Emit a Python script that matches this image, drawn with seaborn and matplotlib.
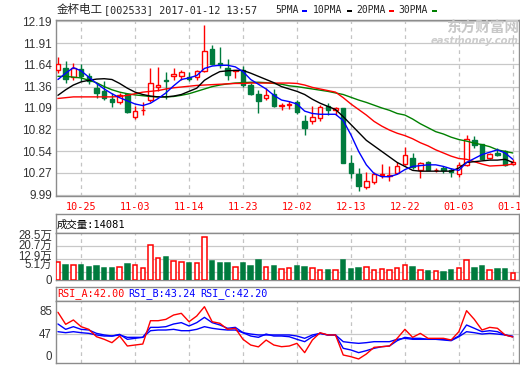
import numpy as np
import pandas as pd
import matplotlib
matplotlib.use('Agg')
import matplotlib.pyplot as plt
import seaborn as sns
from matplotlib.patches import Rectangle
from matplotlib.transforms import ScaledTranslation

# ---- data ----
dates = [
    '2016-10-20', '2016-10-21', '2016-10-24', '2016-10-25', '2016-10-26', '2016-10-27', '2016-10-28', '2016-10-31',
    '2016-11-01', '2016-11-02', '2016-11-03', '2016-11-04', '2016-11-07', '2016-11-08', '2016-11-09', '2016-11-10',
    '2016-11-11', '2016-11-14', '2016-11-15', '2016-11-16', '2016-11-17', '2016-11-18', '2016-11-21', '2016-11-22',
    '2016-11-23', '2016-11-24', '2016-11-25', '2016-11-28', '2016-11-29', '2016-11-30', '2016-12-01', '2016-12-02',
    '2016-12-05', '2016-12-06', '2016-12-07', '2016-12-08', '2016-12-09', '2016-12-12', '2016-12-13', '2016-12-14',
    '2016-12-15', '2016-12-16', '2016-12-19', '2016-12-20', '2016-12-21', '2016-12-22', '2016-12-23', '2016-12-26',
    '2016-12-27', '2016-12-28', '2016-12-29', '2016-12-30', '2017-01-03', '2017-01-04', '2017-01-05', '2017-01-06',
    '2017-01-09', '2017-01-10', '2017-01-11', '2017-01-12']
tick_dates = ['10-25', '11-03', '11-14', '11-23', '12-02', '12-13', '12-22', '01-03', '01-12']

opens = [11.57, 11.60, 11.48, 11.58, 11.50, 11.34, 11.30, 11.20, 11.17, 11.27,
         10.97, 11.06, 11.19, 11.36, 11.44, 11.50, 11.50, 11.48, 11.48, 11.56,
         11.84, 11.66, 11.60, 11.555, 11.57, 11.38, 11.27, 11.22, 11.27, 11.12,
         11.13, 11.17, 10.92, 10.93, 10.96, 11.11, 11.07, 11.09, 10.39, 10.25,
         10.09, 10.15, 10.245, 10.235, 10.27, 10.38, 10.46, 10.31, 10.41, 10.30,
         10.33, 10.31, 10.25, 10.37, 10.68, 10.63, 10.46, 10.52, 10.54, 10.38]
closes = [11.65, 11.46, 11.59, 11.49, 11.43, 11.28, 11.22, 11.17, 11.25, 11.04,
          11.05, 11.07, 11.40, 11.38, 11.43, 11.52, 11.54, 11.46, 11.56, 11.81,
          11.65, 11.63, 11.51, 11.565, 11.38, 11.27, 11.18, 11.26, 11.12, 11.13,
          11.14, 11.04, 10.83, 10.97, 11.10, 11.06, 11.09, 10.39, 10.27, 10.10,
          10.17, 10.25, 10.255, 10.245, 10.35, 10.49, 10.34, 10.39, 10.31, 10.305,
          10.30, 10.28, 10.37, 10.70, 10.62, 10.45, 10.51, 10.49, 10.37, 10.40]
highs = [11.73, 11.69, 11.66, 11.64, 11.53, 11.41, 11.43, 11.28, 11.28, 11.28,
         11.12, 11.17, 11.60, 11.61, 11.55, 11.60, 11.57, 11.54, 11.57, 12.14,
         11.89, 11.86, 11.71, 11.575, 11.62, 11.41, 11.32, 11.34, 11.33, 11.15,
         11.18, 11.19, 11.00, 11.12, 11.13, 11.15, 11.10, 11.09, 10.50, 10.33,
         10.28, 10.28, 10.38, 10.35, 10.41, 10.60, 10.52, 10.41, 10.42, 10.33,
         10.35, 10.33, 10.41, 10.75, 10.74, 10.63, 10.52, 10.58, 10.56, 10.44]
lows = [11.53, 11.40, 11.44, 11.43, 11.39, 11.22, 11.19, 11.10, 11.14, 11.02,
        10.95, 11.00, 11.17, 11.30, 11.20, 11.44, 11.44, 11.43, 11.45, 11.55,
        11.63, 11.60, 11.45, 11.47, 11.36, 11.25, 11.03, 11.19, 11.10, 11.06,
        11.08, 11.01, 10.75, 10.89, 10.92, 11.00, 11.00, 10.39, 10.20, 10.04,
        10.06, 10.13, 10.20, 10.16, 10.25, 10.37, 10.32, 10.20, 10.30, 10.28,
        10.27, 10.22, 10.22, 10.36, 10.58, 10.44, 10.44, 10.48, 10.36, 10.37]

ma5 = [11.45, 11.53, 11.60, 11.56, 11.48, 11.40, 11.33, 11.27, 11.22, 11.18,
       11.14, 11.12, 11.15, 11.21, 11.28, 11.37, 11.45, 11.47, 11.50, 11.59,
       11.62, 11.63, 11.63, 11.61, 11.55, 11.45, 11.39, 11.33, 11.25, 11.19,
       11.17, 11.14, 11.05, 11.02, 11.01, 11.01, 11.01, 10.93, 10.75, 10.54,
       10.37, 10.26, 10.22, 10.22, 10.25, 10.31, 10.35, 10.36, 10.37, 10.37,
       10.35, 10.32, 10.30, 10.40, 10.45, 10.50, 10.53, 10.56, 10.52, 10.44]
ma10 = [11.25, 11.32, 11.38, 11.42, 11.44, 11.455, 11.46, 11.45, 11.40, 11.34,
        11.29, 11.26, 11.24, 11.23, 11.23, 11.24, 11.26, 11.30, 11.34, 11.44,
        11.50, 11.55, 11.56, 11.565, 11.565, 11.53, 11.49, 11.45, 11.41, 11.36,
        11.33, 11.30, 11.26, 11.20, 11.15, 11.11, 11.07, 10.98, 10.88, 10.78,
        10.68, 10.61, 10.54, 10.47, 10.40, 10.35, 10.30, 10.29, 10.29, 10.29,
        10.29, 10.29, 10.33, 10.40, 10.41, 10.42, 10.43, 10.43, 10.44, 10.40]
ma20 = [11.21, 11.22, 11.23, 11.23, 11.23, 11.23, 11.23, 11.23, 11.235, 11.25,
        11.27, 11.29, 11.30, 11.31, 11.33, 11.345, 11.355, 11.365, 11.375, 11.38,
        11.385, 11.39, 11.395, 11.40, 11.40, 11.405, 11.405, 11.405, 11.405, 11.405,
        11.405, 11.40, 11.38, 11.35, 11.33, 11.31, 11.29, 11.22, 11.14, 11.07,
        11.00, 10.92, 10.86, 10.81, 10.77, 10.74, 10.70, 10.65, 10.61, 10.56,
        10.52, 10.48, 10.45, 10.44, 10.41, 10.38, 10.355, 10.36, 10.365, 10.38]
ma30 = [11.49, 11.49, 11.48, 11.47, 11.44, 11.41, 11.36, 11.32, 11.29, 11.27,
        11.255, 11.245, 11.235, 11.23, 11.23, 11.235, 11.25, 11.27, 11.30, 11.33,
        11.36, 11.38, 11.395, 11.405, 11.41, 11.415, 11.415, 11.41, 11.40, 11.39,
        11.37, 11.36, 11.345, 11.33, 11.315, 11.30, 11.28, 11.26, 11.225, 11.19,
        11.16, 11.125, 11.09, 11.06, 11.02, 11.00, 10.95, 10.89, 10.84, 10.79,
        10.76, 10.72, 10.69, 10.67, 10.645, 10.625, 10.60, 10.56, 10.54, 10.52]

# volume in 万
volume = [10.6, 9.0, 8.8, 9.0, 7.6, 8.4, 7.0, 7.0, 8.0, 9.6,
          8.8, 7.0, 20.9, 13.4, 13.6, 11.6, 10.6, 10.2, 10.0, 25.7,
          11.4, 10.4, 10.4, 7.6, 10.4, 8.4, 12.0, 7.6, 8.4, 6.4,
          7.0, 8.4, 7.6, 7.0, 6.0, 6.0, 6.0, 12.0, 6.4, 7.0,
          7.6, 6.0, 6.4, 6.0, 7.0, 8.8, 7.6, 6.0, 5.4, 5.4,
          4.8, 6.0, 7.0, 12.0, 7.0, 8.4, 6.0, 6.6, 6.6, 4.0]

rsi_a = [81.8, 62.4, 69.4, 58.6, 54.3, 42.4, 38.2, 32.8, 43.5, 27.4,
         29.0, 30.6, 68.2, 68.2, 70.4, 77.4, 80.1, 66.6, 75.8, 90.8,
         66.6, 64.0, 54.3, 56.0, 38.2, 29.0, 26.0, 37.0, 29.0, 26.3,
         27.4, 31.7, 16.7, 37.1, 48.9, 45.2, 45.2, 12.9, 10.2, 6.5,
         14.5, 25.3, 26.3, 27.4, 39.8, 54.3, 41.4, 47.8, 39.8, 39.8,
         39.8, 37.1, 50.5, 84.4, 70.4, 53.2, 57.5, 56.0, 45.2, 42.00]
rsi_b = [62.9, 54.3, 58.6, 54.3, 53.2, 47.8, 45.2, 43.5, 46.2, 38.2,
         39.8, 41.4, 57.5, 57.5, 58.6, 62.9, 65.1, 59.7, 65.1, 73.6,
         65.1, 61.3, 56.0, 57.5, 48.9, 43.5, 41.4, 46.7, 43.5, 43.5,
         42.4, 38.2, 34.4, 42.4, 47.8, 45.2, 45.2, 23.7, 21.0, 16.7,
         19.9, 23.7, 26.3, 27.4, 36.0, 41.4, 39.8, 39.8, 38.2, 38.2,
         38.2, 37.1, 43.5, 61.3, 56.0, 50.5, 52.1, 50.5, 45.2, 43.24]
rsi_c = [50.5, 48.9, 50.5, 48.9, 47.8, 45.2, 43.5, 43.5, 45.2, 41.4,
         41.4, 41.4, 52.1, 53.2, 53.2, 54.3, 52.1, 52.1, 54.3, 58.6,
         56.0, 54.3, 53.2, 53.2, 48.9, 46.7, 45.2, 45.2, 45.2, 45.2,
         45.2, 43.5, 39.8, 45.2, 47.8, 45.2, 45.2, 34.4, 32.8, 31.7,
         32.8, 34.4, 34.4, 34.4, 38.2, 39.8, 38.2, 38.2, 38.2, 38.2,
         37.1, 36.0, 42.4, 50.5, 48.9, 46.7, 47.8, 46.7, 45.2, 42.20]

price_ticks = [9.99, 10.27, 10.54, 10.82, 11.09, 11.36, 11.64, 11.91, 12.19]
vol_ticks = [0, 5.1, 12.9, 20.7, 28.5]
rsi_ticks = [0, 47, 85]
last_volume = 14081

RED = '#ff0000'
GREEN = '#007b3e'
GRID = '#c8c8c8'
EDGE = '#8c8c8c'
W, H = 520, 365
MONO = ['DejaVu Sans Mono', 'Noto Sans CJK SC']
SANS = ['Liberation Sans', 'Noto Sans CJK SC']

sns.set_style('white')
plt.rcParams['font.family'] = MONO


def box(x0, y0, x1, y1):
    return [x0 / W, 1 - y1 / H, (x1 - x0) / W, (y1 - y0) / H]


df = pd.DataFrame({'date': dates, 'open': opens, 'close': closes, 'high': highs, 'low': lows,
                   'ma5': ma5, 'ma10': ma10, 'ma20': ma20, 'ma30': ma30, 'vol': volume,
                   'rsi_a': rsi_a, 'rsi_b': rsi_b, 'rsi_c': rsi_c})
df['x'] = np.arange(len(df))
df['up'] = df['close'] >= df['open']
edge_c = np.where(df['up'], RED, GREEN)
face_c = np.where(df['up'], 'white', GREEN)
tick_x = df.index[df['date'].str[5:].isin(tick_dates)].tolist()

fig = plt.figure(figsize=(W / 100, H / 100), dpi=100)
fig.patch.set_facecolor('white')
ax = fig.add_axes(box(55.5, 20, 519, 195.5))
axvh = fig.add_axes(box(55.5, 214, 519, 232.7))
axv = fig.add_axes(box(55.5, 232.7, 519, 280))
axrh = fig.add_axes(box(55.5, 287.3, 519, 301))
axr = fig.add_axes(box(55.5, 301, 519, 363))


def frame(a, vgrid=True):
    for s in a.spines.values():
        s.set_color(EDGE)
        s.set_linewidth(1)
    a.set_xlim(-0.32, 59.8)
    a.set_xticks(tick_x)
    a.tick_params(length=0)
    a.set_xlabel('')
    a.set_ylabel('')
    if vgrid:
        for x in tick_x:
            a.axvline(x, color='#c4c4c4', lw=0.9, ls=(0, (3, 3)), zorder=0)


def side_labels(a, values, labels, lift_px):
    # labels sit a little off their gridline (as in the source), shifted in pixels
    a.set_yticklabels([])
    for v, lab, dy in zip(values, labels, lift_px):
        tr = a.get_yaxis_transform() + ScaledTranslation(-3.5 / 100, dy / 100, fig.dpi_scale_trans)
        a.text(0, v, lab, transform=tr, ha='right', va='center_baseline',
               family=SANS, size=8.3, color='#333333')


# ---- price panel ----
ax.vlines(df['x'], df['low'], df['high'], colors=edge_c, lw=1, zorder=2)
ax.bar(df['x'], (df['close'] - df['open']).abs().clip(lower=0.006),
       bottom=np.minimum(df['open'], df['close']), width=0.58,
       color=face_c, edgecolor=edge_c, lw=1, zorder=3)
for col, c in [('ma30', '#008000'), ('ma20', RED), ('ma10', 'black'), ('ma5', '#0000ff')]:
    sns.lineplot(data=df, x='x', y=col, ax=ax, color=c, lw=1, zorder=4)
ax.set_ylim(9.982, 12.203)
ax.set_yticks(price_ticks)
ax.set_yticklabels([f'{v:.2f}' for v in price_ticks], family=SANS, size=8.5, color='#333333')
for v in price_ticks:
    ax.axhline(v, color=GRID, lw=0.9, zorder=0)
frame(ax)
ax.set_xticklabels(tick_dates, color=RED, size=7.3)
ax.tick_params(axis='x', pad=5)
ax.tick_params(axis='y', pad=2.5)

# ---- volume panel ----
axv.bar(df['x'], df['vol'], width=0.58, color=face_c, edgecolor=edge_c, lw=1.1, zorder=3)
axv.set_ylim(0, 28.5)
axv.set_yticks(vol_ticks)
for v in vol_ticks[1:-1]:
    axv.axhline(v, color=GRID, lw=0.9, zorder=0)
frame(axv)
axv.tick_params(labelbottom=False)
side_labels(axv, vol_ticks, ['0'] + [f'{v}万' for v in vol_ticks[1:]], [0, 8, 3, 1.3, -1.3])

axvh.set_yticks([])
frame(axvh, vgrid=False)
axvh.set_xticks([])
axvh.text(0.003, 0.45, f'成交量:{last_volume}', transform=axvh.transAxes, va='center',
          size=7.5, color='black')

# ---- RSI panel ----
for col, c in [('rsi_c', '#0000ff'), ('rsi_b', '#0000ff'), ('rsi_a', RED)]:
    sns.lineplot(data=df, x='x', y=col, ax=axr, color=c, lw=1, zorder=3)
axr.set_ylim(0, 100)
axr.set_yticks(rsi_ticks)
axr.axhline(47, color=GRID, lw=0.9, zorder=0)
frame(axr)
axr.tick_params(labelbottom=False)
side_labels(axr, rsi_ticks, [str(v) for v in rsi_ticks], [7, 0, 0])

axrh.set_yticks([])
frame(axrh, vgrid=False)
axrh.set_xticks([])
for x0, txt, c in [(57, f'RSI_A:{rsi_a[-1]:.2f}', RED), (128, f'RSI_B:{rsi_b[-1]:.2f}', '#0000ff'),
                   (200, f'RSI_C:{rsi_c[-1]:.2f}', '#0000ff')]:
    fig.text(x0 / W, 1 - 294 / H, txt, va='center', size=7.3, color=c)

# ---- title, legend, watermark ----
fig.text(57 / W, 1 - 10 / H, '金杯电工', va='center', family=['Noto Sans CJK SC'], size=8.3)
fig.text(104 / W, 1 - 10 / H, '[002533] 2017-01-12 13:57', va='center', size=7.3)
for x0, txt, dx, c in [(275, '5PMA', 302, '#0000ff'), (313, '10PMA', 347, 'black'),
                       (356, '20PMA', 389, RED), (398, '30PMA', 432, '#008000')]:
    fig.text(x0 / W, 1 - 10 / H, txt, va='center', size=7.0)
    fig.add_artist(Rectangle((dx / W, 1 - 12.3 / H), 5 / W, 2.3 / H, transform=fig.transFigure,
                             color=c, lw=0))
fig.text(519 / W, 1 - 28 / H, '东方财富网', ha='right', va='center', family=['Noto Sans CJK SC'],
         weight='bold', size=10.5, color='#c8c8c8')
fig.text(519 / W, 1 - 41 / H, 'eastmoney.com', ha='right', va='center', family=['DejaVu Sans'],
         weight='bold', style='italic', size=7.2, color='#cccccc')

fig.savefig('out.png', dpi=100, facecolor='white')
